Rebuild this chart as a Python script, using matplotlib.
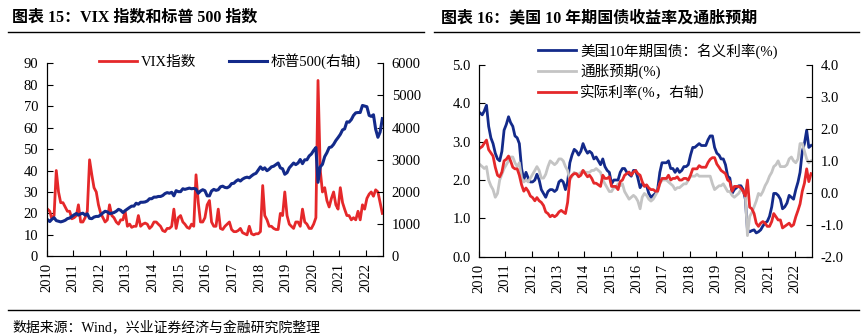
import matplotlib
matplotlib.use('Agg')
import matplotlib.pyplot as plt
import pandas as pd
from matplotlib.lines import Line2D

plt.rcParams['font.family'] = ['Liberation Serif', 'Noto Sans CJK SC']
plt.rcParams['axes.unicode_minus'] = False

# 月度数据 2010-01 ~ 2022-08
vix = [
    22, 21, 17.5, 19, 40, 30, 25, 25, 23, 21, 21, 17.5,  # 2010
    18, 19, 24, 16, 16, 18, 21, 45, 38, 32, 30, 24,  # 2011
    20, 18, 16, 17, 24, 19, 18, 16, 15, 17, 17, 21,  # 2012
    14, 15, 13.5, 14, 14, 19, 14, 15, 15.5, 15, 13, 14,  # 2013
    16, 16, 15, 14, 12, 11.5, 13, 13, 14, 22, 13, 18,  # 2014
    19, 16, 15, 13.5, 13, 15, 14, 38, 25, 16, 16, 18,  # 2015
    24, 26, 16, 14, 14, 22, 13, 12.5, 14, 15, 16, 12.5,  # 2016
    11.5, 11.5, 12, 13, 11, 10.5, 10, 14, 10.5, 10, 10.5, 10.5,  # 2017
    11.5, 33, 19, 17, 14, 14, 13, 12.5, 12.5, 20, 19, 30,  # 2018
    19, 15, 14, 13, 16, 16, 14, 22, 16, 15, 13, 13,  # 2019
    15, 18, 82, 40, 30, 32, 26, 23, 27, 30, 24, 22,  # 2020
    32, 25, 22, 19, 19, 17, 18, 17, 21, 17, 24, 22,  # 2021
    27, 29, 30, 28, 31, 30, 25, 20,  # 2022
]
spx = [
    1140, 1080, 1150, 1200, 1110, 1090, 1070, 1090, 1120, 1170, 1190, 1240,
    1290, 1330, 1280, 1320, 1340, 1280, 1320, 1180, 1170, 1220, 1240, 1240,
    1290, 1350, 1400, 1380, 1330, 1340, 1360, 1400, 1460, 1430, 1360, 1420,
    1470, 1520, 1560, 1560, 1650, 1620, 1680, 1680, 1690, 1720, 1790, 1790,
    1840, 1840, 1860, 1860, 1890, 1950, 1980, 1960, 1990, 1880, 2040, 2010,
    2010, 2100, 2080, 2100, 2120, 2100, 2110, 2090, 1960, 2030, 2070, 2040,
    1880, 1880, 2030, 2080, 2050, 2070, 2160, 2180, 2140, 2130, 2170, 2260,
    2270, 2340, 2380, 2340, 2400, 2440, 2460, 2440, 2500, 2550, 2580, 2680,
    2780, 2700, 2750, 2660, 2710, 2780, 2800, 2850, 2900, 2750, 2720, 2550,
    2600, 2750, 2820, 2900, 2850, 2900, 3010, 2880, 3000, 3000, 3120, 3180,
    3290, 3380, 2300, 2780, 2860, 3100, 3220, 3380, 3400, 3480, 3600, 3690,
    3790, 3930, 3960, 4180, 4170, 4250, 4380, 4460, 4470, 4470, 4690, 4670,
    4650, 4380, 4350, 4400, 3950, 3700, 3860, 4280,
]
nominal = [
    3.75, 3.70, 3.80, 3.95, 3.40, 3.10, 2.95, 2.70, 2.55, 2.50, 2.75, 3.30,
    3.45, 3.65, 3.50, 3.40, 3.15, 3.10, 2.95, 2.30, 2.00, 2.20, 2.05, 1.95,
    1.95, 2.00, 2.15, 2.00, 1.75, 1.65, 1.55, 1.70, 1.75, 1.75, 1.70, 1.75,
    1.95, 2.00, 1.95, 1.75, 1.95, 2.45, 2.65, 2.80, 2.75, 2.65, 2.75, 2.95,
    2.80, 2.70, 2.75, 2.70, 2.55, 2.60, 2.50, 2.40, 2.55, 2.35, 2.25, 2.20,
    1.90, 2.00, 2.00, 2.00, 2.20, 2.30, 2.30, 2.20, 2.15, 2.10, 2.25, 2.25,
    2.05, 1.80, 1.90, 1.85, 1.85, 1.65, 1.55, 1.60, 1.65, 1.75, 2.20, 2.45,
    2.45, 2.45, 2.50, 2.30, 2.30, 2.20, 2.30, 2.20, 2.25, 2.35, 2.35, 2.40,
    2.65, 2.85, 2.85, 2.90, 2.95, 2.90, 2.90, 2.90, 3.05, 3.15, 3.15, 2.85,
    2.70, 2.65, 2.55, 2.55, 2.40, 2.10, 2.05, 1.65, 1.75, 1.80, 1.85, 1.85,
    1.75, 1.50, 0.70, 0.65, 0.68, 0.70, 0.62, 0.65, 0.70, 0.80, 0.88, 0.92,
    1.05, 1.30, 1.65, 1.65, 1.60, 1.50, 1.25, 1.30, 1.40, 1.60, 1.55, 1.50,
    1.75, 1.95, 2.20, 2.75, 2.95, 3.30, 2.85, 2.90,
]
inflation = [
    2.40, 2.35, 2.30, 2.35, 2.00, 1.85, 1.75, 1.55, 1.65, 2.00, 2.15, 2.30,
    2.40, 2.50, 2.60, 2.60, 2.45, 2.35, 2.45, 2.05, 1.95, 2.00, 1.95, 2.05,
    2.15, 2.25, 2.35, 2.25, 2.05, 2.05, 2.15, 2.35, 2.50, 2.45, 2.40, 2.45,
    2.55, 2.55, 2.50, 2.35, 2.25, 2.00, 2.10, 2.20, 2.15, 2.15, 2.20, 2.25,
    2.20, 2.20, 2.20, 2.25, 2.25, 2.30, 2.25, 2.20, 2.00, 1.90, 1.80, 1.70,
    1.70, 1.80, 1.80, 1.90, 1.85, 1.90, 1.70, 1.60, 1.50, 1.55, 1.60, 1.55,
    1.45, 1.25, 1.55, 1.65, 1.60, 1.50, 1.45, 1.50, 1.60, 1.70, 1.90, 2.00,
    2.00, 2.00, 1.95, 1.90, 1.85, 1.75, 1.80, 1.80, 1.85, 1.90, 1.90, 2.00,
    2.10, 2.10, 2.10, 2.15, 2.10, 2.10, 2.10, 2.10, 2.10, 2.10, 1.90, 1.75,
    1.80, 1.85, 1.85, 1.90, 1.80, 1.70, 1.70, 1.60, 1.55, 1.60, 1.65, 1.75,
    1.70, 1.60, 0.55, 1.05, 1.15, 1.30, 1.45, 1.65, 1.60, 1.70, 1.85, 1.95,
    2.10, 2.20, 2.35, 2.40, 2.50, 2.35, 2.35, 2.35, 2.40, 2.55, 2.60, 2.50,
    2.45, 2.55, 2.95, 2.95, 2.75, 2.55, 2.45, 2.50,
]
real_rate = [
    1.40, 1.45, 1.55, 1.65, 1.35, 1.25, 1.15, 0.80, 0.55, 0.50, 0.65, 1.00,
    1.05, 1.15, 1.00, 0.80, 0.75, 0.75, 0.55, 0.25, 0.05, 0.15, 0.05, -0.10,
    -0.15, -0.25, -0.15, -0.25, -0.30, -0.40, -0.60, -0.65, -0.75, -0.70, -0.75, -0.70,
    -0.60, -0.55, -0.60, -0.65, -0.30, 0.45, 0.55, 0.60, 0.60, 0.50, 0.55, 0.70,
    0.60, 0.50, 0.55, 0.45, 0.30, 0.30, 0.25, 0.20, 0.55, 0.45, 0.45, 0.50,
    0.20, 0.20, 0.20, 0.10, 0.35, 0.40, 0.55, 0.60, 0.65, 0.55, 0.65, 0.70,
    0.60, 0.55, 0.35, 0.20, 0.25, 0.15, 0.10, 0.10, 0.05, 0.05, 0.30, 0.45,
    0.45, 0.45, 0.55, 0.40, 0.45, 0.45, 0.50, 0.40, 0.40, 0.45, 0.45, 0.40,
    0.55, 0.75, 0.75, 0.75, 0.85, 0.80, 0.80, 0.80, 0.95, 1.05, 1.10, 1.10,
    0.90, 0.80, 0.70, 0.65, 0.60, 0.40, 0.35, 0.05, 0.20, 0.20, 0.20, 0.15,
    0.05, -0.10, 0.40, -0.45, -0.50, -0.65, -0.95, -1.05, -0.95, -0.90, -0.95, -1.05,
    -1.05, -0.90, -0.65, -0.75, -0.85, -0.85, -1.10, -1.05, -1.00, -0.95, -1.05, -1.00,
    -0.75, -0.55, -0.35, 0.05, 0.30, 0.75, 0.35, 0.60,
]
dates = pd.date_range('2010-01-01', periods=len(vix), freq='MS') + pd.Timedelta(days=14)
years = list(range(2010, 2023))

RED = '#E5282A'
NAVY = '#132A8A'
GRAY = '#C4C4C4'
W, H = 867, 336

fig = plt.figure(figsize=(W / 100, H / 100), dpi=100)


def px(x0, y0, x1, y1):
    # 像素坐标 -> figure 比例
    return [x0 / W, 1 - y1 / H, (x1 - x0) / W, (y1 - y0) / H]


def style(ax, ax2):
    for a in (ax, ax2):
        a.spines['top'].set_visible(False)
        a.tick_params(direction='in', length=4, width=0.8, labelsize=10.5, colors='black')
    ax.set_xlim(pd.Timestamp('2010-01-01'), pd.Timestamp('2022-08-28'))
    ax.set_xticks([pd.Timestamp(f'{y}-01-01') for y in years])
    ax.set_xticklabels([str(y) for y in years], rotation=90)
    ax.tick_params(axis='x', pad=5)
    ax.tick_params(axis='y', pad=6)
    ax2.tick_params(axis='y', pad=6)


# 左图：VIX 与标普500
ax1 = fig.add_axes(px(46.5, 63.3, 383.3, 256.3))
ax1b = ax1.twinx()
ax1.plot(dates, vix, color=RED, lw=2.0)
ax1b.plot(dates, spx, color=NAVY, lw=2.2)
ax1.set_ylim(0, 90)
ax1.set_yticks(range(0, 91, 10))
ax1b.set_ylim(0, 6000)
ax1b.set_yticks(range(0, 6001, 1000))
style(ax1, ax1b)
handles = [Line2D([], [], color=RED, lw=2.0), Line2D([], [], color=NAVY, lw=2.2)]
fig.legend(handles, ['VIX指数', '标普500(右轴)'], loc='center', bbox_to_anchor=(230 / W, 1 - 61 / H),
           ncol=2, frameon=False, fontsize=10.5, handlelength=2.6, columnspacing=2.2, handletextpad=0.3)

# 右图：美债收益率
ax2 = fig.add_axes(px(479, 65, 812, 256.7))
ax2b = ax2.twinx()
l1, = ax2.plot(dates, nominal, color=NAVY, lw=2.0)
l2, = ax2.plot(dates, inflation, color=GRAY, lw=2.0)
l3, = ax2b.plot(dates, real_rate, color=RED, lw=2.0)
ax2.set_ylim(0, 5)
ax2.set_yticks([0, 1, 2, 3, 4, 5])
ax2.set_yticklabels([f'{v:.1f}' for v in [0, 1, 2, 3, 4, 5]])
ax2b.set_ylim(-2, 4)
ax2b.set_yticks([-2, -1, 0, 1, 2, 3, 4])
ax2b.set_yticklabels([f'{v:.1f}' for v in [-2, -1, 0, 1, 2, 3, 4]])
style(ax2, ax2b)
fig.legend([l1, l2, l3], ['美国10年期国债：名义利率(%)', '通胀预期(%)', '实际利率(%，右轴）'],
           loc='upper left', bbox_to_anchor=(532 / W, 1 - 37 / H), frameon=False, fontsize=10.5,
           handlelength=2.6, handletextpad=0.3, labelspacing=0.35, borderaxespad=0)

# 标题、分隔线、来源
fig.text(12 / W, 1 - 18 / H, '图表 15：VIX 指数和标普 500 指数', fontsize=11.5, fontweight='bold', va='center')
fig.text(441 / W, 1 - 18 / H, '图表 16：美国 10 年期国债收益率及通胀预期', fontsize=11.5, fontweight='bold', va='center')
for x0, x1 in [(8, 424), (434, 859)]:
    fig.add_artist(Line2D([x0 / W, x1 / W], [1 - 32 / H, 1 - 32 / H], color='black', lw=1))
fig.add_artist(Line2D([8 / W, 859 / W], [1 - 310 / H, 1 - 310 / H], color='black', lw=1))
fig.text(12 / W, 1 - 328 / H, '数据来源：Wind，兴业证券经济与金融研究院整理', fontsize=10, va='center')

plt.savefig('out.png', dpi=100)
